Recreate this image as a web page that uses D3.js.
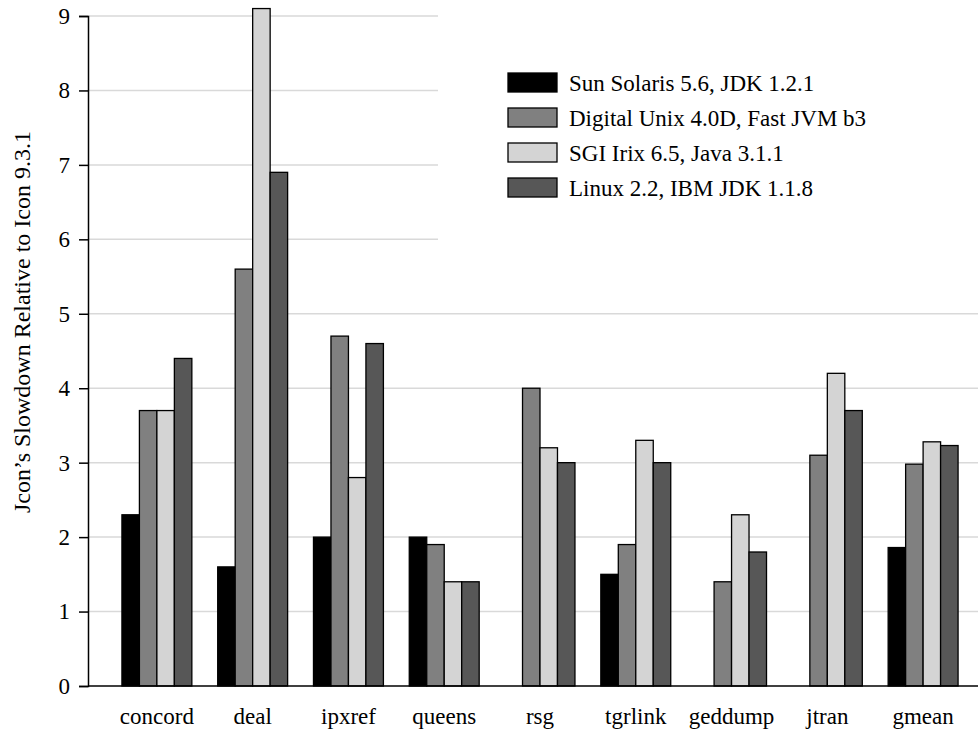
<!DOCTYPE html>
<html>
<head>
<meta charset="utf-8">
<script src="https://cdn.jsdelivr.net/npm/d3@7"></script>
<style>
  body { margin: 0; background: #fff; }
  text { font-family: "Liberation Serif", "Times New Roman", serif; }
</style>
</head>
<body>
<div id="chart"></div>
<script>
// Benchmarks and platforms
const benchmarks = ["concord", "deal", "ipxref", "queens", "rsg", "tgrlink", "geddump", "jtran", "gmean"];
const platforms = [
    "Sun Solaris 5.6, JDK 1.2.1",
    "Digital Unix 4.0D, Fast JVM b3",
    "SGI Irix 6.5, Java 3.1.1",
    "Linux 2.2, IBM JDK 1.1.8"
];
const colors = ["#000000", "#808080", "#d4d4d4", "#575757"];

// Slowdown values per platform (null = no result)
const sunSolaris = [2.3, 1.6, 2.0, 2.0, null, 1.5, null, null, 1.86];
const digitalUnix = [3.7, 5.6, 4.7, 1.9, 4.0, 1.9, 1.4, 3.1, 2.98];
const sgiIrix = [3.7, 9.1, 2.8, 1.4, 3.2, 3.3, 2.3, 4.2, 3.28];
const linuxIbm = [4.4, 6.9, 4.6, 1.4, 3.0, 3.0, 1.8, 3.7, 3.23];
const series = [sunSolaris, digitalUnix, sgiIrix, linuxIbm];

const yTicks = [0, 1, 2, 3, 4, 5, 6, 7, 8, 9];

const W = 978, H = 732;
const svg = d3.select("#chart").append("svg")
    .attr("width", W)
    .attr("height", H);

const axisX = 88;
const y = d3.scaleLinear().domain([0, 9]).range([686, 16]);

const x0 = d3.scaleBand()
    .domain(benchmarks)
    .range([109, 971])
    .paddingInner(0.27)
    .paddingOuter(0.135);

const x1 = d3.scaleBand()
    .domain(d3.range(platforms.length))
    .range([0, x0.bandwidth()]);

// Gridlines
svg.append("g")
    .selectAll("line")
    .data(yTicks.filter(d => d > 0))
    .join("line")
    .attr("x1", axisX)
    .attr("x2", W)
    .attr("y1", d => y(d))
    .attr("y2", d => y(d))
    .attr("stroke", "#d9d9d9")
    .attr("stroke-width", 1.5);

// Legend background hides gridlines behind it
svg.append("rect")
    .attr("x", 438)
    .attr("y", 0)
    .attr("width", W - 438)
    .attr("height", 262)
    .attr("fill", "#fff");

// Bars
const rows = [];
benchmarks.forEach((b, i) => {
    series.forEach((s, j) => {
        if (s[i] != null) rows.push({ bench: b, k: j, value: s[i] });
    });
});

svg.append("g")
    .selectAll("rect")
    .data(rows)
    .join("rect")
    .attr("x", d => x0(d.bench) + x1(d.k))
    .attr("y", d => y(d.value))
    .attr("width", x1.bandwidth())
    .attr("height", d => y(0) - y(d.value))
    .attr("fill", d => colors[d.k])
    .attr("stroke", "#000")
    .attr("stroke-width", 1.3);

// Y axis
const yAxis = svg.append("g")
    .attr("transform", `translate(${axisX},0)`)
    .call(d3.axisLeft(y).tickValues(yTicks).tickSize(9).tickPadding(9));
yAxis.select(".domain").attr("stroke", "#000").attr("stroke-width", 1.5);
yAxis.selectAll(".tick line").attr("stroke-width", 1.5);
yAxis.selectAll("text")
    .attr("font-family", "Liberation Serif, Times New Roman, serif")
    .attr("font-size", 23)
    .attr("fill", "#000");

// X axis
const xAxis = svg.append("g")
    .attr("transform", `translate(0,${y(0)})`)
    .call(d3.axisBottom(x0).tickSize(0).tickPadding(22));
xAxis.select(".domain")
    .attr("d", `M${axisX},0H${W}`)
    .attr("stroke", "#000")
    .attr("stroke-width", 1.5);
xAxis.selectAll("text")
    .attr("font-family", "Liberation Serif, Times New Roman, serif")
    .attr("font-size", 23)
    .attr("fill", "#000");

// Y label
svg.append("text")
    .attr("transform", `translate(30,322) rotate(-90)`)
    .attr("text-anchor", "middle")
    .attr("font-size", 24)
    .text("Jcon\u2019s Slowdown Relative to Icon 9.3.1");

// Legend
const legend = svg.append("g")
    .attr("transform", "translate(508,73)");
const item = legend.selectAll("g")
    .data(platforms)
    .join("g")
    .attr("transform", (d, i) => `translate(0,${i * 35})`);
item.append("rect")
    .attr("width", 49)
    .attr("height", 19)
    .attr("fill", (d, i) => colors[i])
    .attr("stroke", "#000")
    .attr("stroke-width", 1.3);
item.append("text")
    .attr("x", 61)
    .attr("y", 18)
    .attr("font-size", 23)
    .text(d => d);
</script>
</body>
</html>
